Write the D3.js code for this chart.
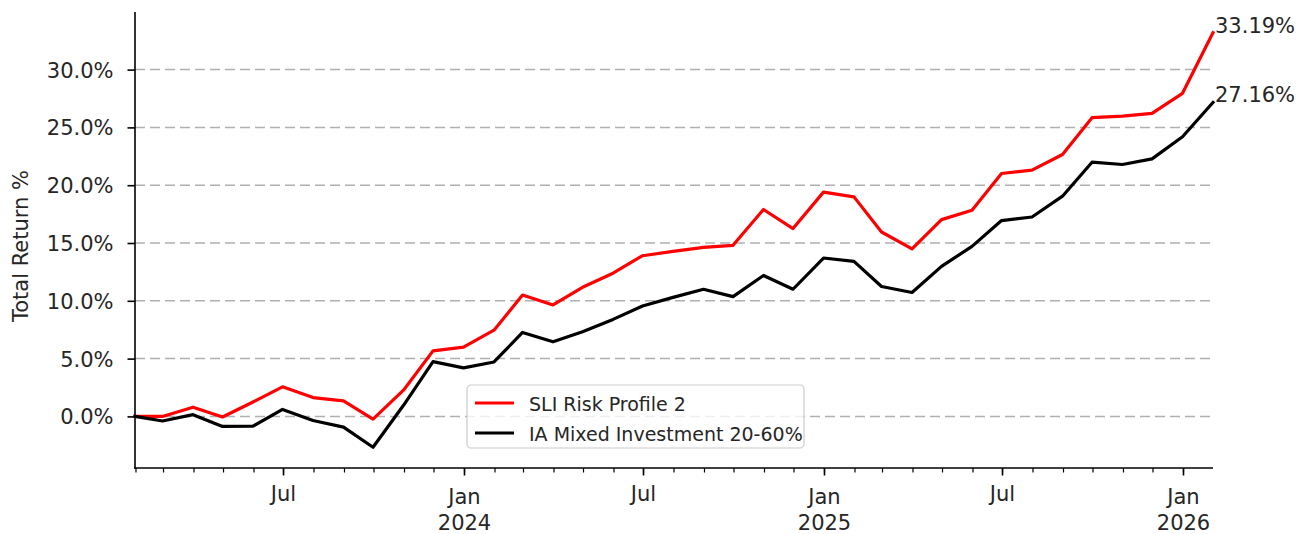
<!DOCTYPE html>
<html>
<head>
<meta charset="utf-8">
<script src="https://cdn.jsdelivr.net/npm/d3@7"></script>
<style>
  body { margin: 0; background: #fff; }
  svg { font-family: "DejaVu Sans", sans-serif; }
</style>
</head>
<body>
<svg id="chart" width="1308" height="534"></svg>
<script>
// month-end dates
const dates = [
  "2023-01-31", "2023-02-28", "2023-03-31", "2023-04-30", "2023-05-31", "2023-06-30", "2023-07-31", "2023-08-31", "2023-09-30", "2023-10-31", "2023-11-30", "2023-12-31",
  "2024-01-31", "2024-02-29", "2024-03-31", "2024-04-30", "2024-05-31", "2024-06-30", "2024-07-31", "2024-08-31", "2024-09-30", "2024-10-31", "2024-11-30", "2024-12-31",
  "2025-01-31", "2025-02-28", "2025-03-31", "2025-04-30", "2025-05-31", "2025-06-30", "2025-07-31", "2025-08-31", "2025-09-30", "2025-10-31", "2025-11-30", "2025-12-31",
  "2026-01-31"
];
const seriesNames = ["SLI Risk Profile 2", "IA Mixed Investment 20-60%"];
const sliValues = [
  0.0, 0.0, 0.8, -0.05, 1.25, 2.56, 1.63, 1.34, -0.23, 2.27, 5.67, 6.0,
  7.46, 10.5, 9.64, 11.17, 12.39, 13.9, 14.28, 14.62, 14.8, 17.9, 16.25, 19.4,
  18.99, 15.95, 14.5, 17.02, 17.83, 21.01, 21.3, 22.66, 25.84, 25.98, 26.21, 27.95,
  33.19
];
const iaValues = [
  0.0, -0.4, 0.15, -0.87, -0.84, 0.6, -0.35, -0.93, -2.67, 0.96, 4.74, 4.2,
  4.71, 7.26, 6.45, 7.32, 8.39, 9.55, 10.3, 11.0, 10.36, 12.19, 11.0, 13.7,
  13.41, 11.24, 10.72, 12.98, 14.71, 16.94, 17.25, 19.05, 21.99, 21.79, 22.28, 24.19,
  27.16
];
const yTicks = [0, 5, 10, 15, 20, 25, 30];
const colors = ["#ff0000", "#000000"];

const parse = d3.timeParse("%Y-%m-%d");
const dateObjs = dates.map(parse);
const series = [sliValues, iaValues].map((vals, i) => ({
  name: seriesNames[i],
  color: colors[i],
  points: vals.map((v, j) => ({date: dateObjs[j], value: v}))
}));

// plot area
const m = {left: 135, right: 1213, top: 12, bottom: 468};
const fs = 21;

const svg = d3.select("#chart");

const x = d3.scaleTime().domain(d3.extent(dateObjs)).range([m.left, m.right]);
const allVals = sliValues.concat(iaValues);
const [ymin, ymax] = d3.extent(allVals);
const pad = (ymax - ymin) * 0.05;
const y = d3.scaleLinear().domain([ymin - pad, ymax + pad]).range([m.bottom, m.top]);

// grid
svg.append("g").selectAll("line").data(yTicks).enter()
  .append("line")
  .attr("x1", m.left).attr("x2", m.right)
  .attr("y1", d => y(d)).attr("y2", d => y(d))
  .attr("stroke", "#b0b0b0")
  .attr("stroke-width", 1.5)
  .attr("stroke-dasharray", "10,5");

// y axis
const yAxis = svg.append("g")
  .attr("transform", `translate(${m.left},0)`)
  .call(d3.axisLeft(y).tickValues(yTicks).tickFormat(d => d.toFixed(1) + "%").tickSize(7.5).tickPadding(14).tickSizeOuter(0));
yAxis.select(".domain").remove();
yAxis.selectAll(".tick line").attr("stroke", "#000").attr("stroke-width", 1.6);
yAxis.selectAll(".tick text").attr("font-size", fs).attr("fill", "#262626").attr("font-family", "DejaVu Sans").attr("dy", "0.36em");

// x axis minor ticks (monthly)
const months = d3.timeMonth.range(x.domain()[0], x.domain()[1]);
svg.append("g").selectAll("line").data(months).enter()
  .append("line")
  .attr("x1", d => x(d)).attr("x2", d => x(d))
  .attr("y1", m.bottom).attr("y2", m.bottom + 4.5)
  .attr("stroke", "#000").attr("stroke-width", 1.2);

// x axis major ticks (Jan / Jul)
const majors = months.filter(d => d.getMonth() === 0 || d.getMonth() === 6);
const gx = svg.append("g").selectAll("g").data(majors).enter()
  .append("g").attr("transform", d => `translate(${x(d)},0)`);
gx.append("line").attr("y1", m.bottom).attr("y2", m.bottom + 7.5)
  .attr("stroke", "#000").attr("stroke-width", 1.6);
gx.append("text")
  .attr("text-anchor", "middle")
  .attr("font-size", fs).attr("fill", "#262626")
  .attr("y", d => d.getMonth() === 0 ? 504 : 501)
  .text(d => d3.timeFormat("%b")(d));
gx.filter(d => d.getMonth() === 0).append("text")
  .attr("text-anchor", "middle")
  .attr("font-size", fs).attr("fill", "#262626")
  .attr("y", 530)
  .text(d => d.getFullYear());

// spines
svg.append("line").attr("x1", m.left).attr("x2", m.left).attr("y1", m.top).attr("y2", m.bottom + 0.8)
  .attr("stroke", "#000").attr("stroke-width", 1.6);
svg.append("line").attr("x1", m.left - 0.8).attr("x2", m.right).attr("y1", m.bottom).attr("y2", m.bottom)
  .attr("stroke", "#000").attr("stroke-width", 1.6);

// y label
svg.append("text")
  .attr("transform", `translate(28,246) rotate(-90)`)
  .attr("text-anchor", "middle")
  .attr("font-size", fs).attr("fill", "#262626")
  .text("Total Return %");

// lines
const line = d3.line().x(d => x(d.date)).y(d => y(d.value));
svg.append("g").selectAll("path").data(series).enter()
  .append("path")
  .attr("d", d => line(d.points))
  .attr("fill", "none")
  .attr("stroke", d => d.color)
  .attr("stroke-width", 3.2)
  .attr("stroke-linejoin", "round")
  .attr("stroke-linecap", "square");

// end labels
svg.append("g").selectAll("text").data(series).enter()
  .append("text")
  .attr("x", d => x(d.points[d.points.length - 1].date) + 2)
  .attr("y", d => y(d.points[d.points.length - 1].value))
  .attr("font-size", fs).attr("fill", "#262626")
  .text(d => d.points[d.points.length - 1].value.toFixed(2) + "%");

// legend
const lg = svg.append("g").attr("transform", "translate(467,385)");
lg.append("rect")
  .attr("width", 337).attr("height", 63)
  .attr("rx", 4).attr("ry", 4)
  .attr("fill", "rgba(255,255,255,0.8)")
  .attr("stroke", "#cccccc").attr("stroke-width", 1.2);
const items = lg.selectAll("g").data(series).enter()
  .append("g").attr("transform", (d, i) => `translate(0,${18 + i * 30})`);
items.append("line").attr("x1", 8).attr("x2", 47)
  .attr("stroke", d => d.color).attr("stroke-width", 3.2);
items.append("text").attr("x", 62).attr("y", 7.5)
  .attr("font-size", 19).attr("fill", "#262626")
  .text(d => d.name);
</script>
</body>
</html>
